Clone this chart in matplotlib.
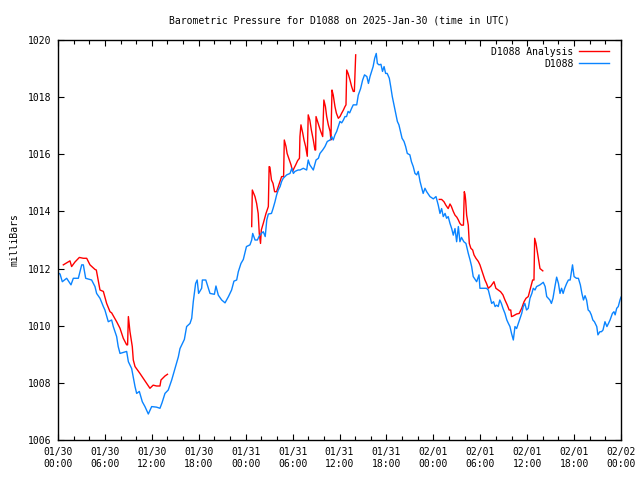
import numpy as np
import matplotlib
matplotlib.use("Agg")
import matplotlib.pyplot as plt
from matplotlib.ticker import MultipleLocator

plt.rcParams['font.family'] = ['DejaVu Sans Mono']

title = "Barometric Pressure for D1088 on 2025-Jan-30 (time in UTC)"
ylabel = "milliBars"
xtick_labels = ["01/30\n00:00", "01/30\n06:00", "01/30\n12:00", "01/30\n18:00",
                "01/31\n00:00", "01/31\n06:00", "01/31\n12:00", "01/31\n18:00",
                "02/01\n00:00", "02/01\n06:00", "02/01\n12:00", "02/01\n18:00",
                "02/02\n00:00"]
series_names = ["D1088 Analysis", "D1088"]

# hours since 2025-01-30 00:00 UTC
obs_hours = [0.0, 0.26, 0.55, 1.11, 1.66, 1.96, 2.6, 3.03, 3.24, 3.54, 4.3, 4.73, 4.94, 5.37, 5.8, 6.0,
             6.43, 6.86, 7.07, 7.5, 7.7, 7.93, 8.78, 9.0, 9.42, 9.85, 10.06, 10.4, 10.78, 11.12, 11.55,
             11.98, 12.6, 13.04, 13.3, 13.68, 14.1, 14.54, 14.96, 15.39, 15.6, 16.16, 16.45, 16.88, 17.1,
             17.3, 17.6, 17.8, 17.98, 18.37, 18.46, 18.9, 19.44, 20.0, 20.2, 20.5, 20.93, 21.36, 21.8,
             22.2, 22.5, 22.85, 23.06, 23.4, 23.7, 24.1, 24.55, 24.77, 24.9, 25.2, 25.5, 25.7, 26.0,
             26.25, 26.5, 26.7, 26.9, 27.3, 27.5, 27.75, 27.96, 28.17, 28.4, 28.6, 28.8, 29.25, 29.67,
             29.9, 30.1, 30.3, 30.7, 30.95, 31.37, 31.8, 32.0, 32.2, 32.65, 33.0, 33.3, 33.5, 33.85,
             34.14, 34.44, 34.8, 35.0, 35.2, 35.42, 35.64, 35.85, 36.06, 36.28, 36.5, 36.7, 36.9, 37.1,
             37.3, 37.55, 37.76, 38.2, 38.4, 38.7, 38.96, 39.2, 39.5, 39.7, 39.9, 40.1, 40.3, 40.5,
             40.7, 40.84, 41.05, 41.3, 41.5, 41.7, 41.9, 42.1, 42.37, 42.55, 42.75, 42.97, 43.2, 43.4,
             43.6, 43.8, 44.0, 44.25, 44.46, 44.67, 45.0, 45.2, 45.43, 45.65, 45.87, 46.07, 46.3, 46.7,
             46.93, 47.15, 47.57, 48.0, 48.34, 48.63, 48.85, 49.06, 49.27, 49.5, 49.7, 49.9, 50.13,
             50.35, 50.55, 50.77, 50.98, 51.2, 51.4, 51.6, 51.9, 52.17, 52.47, 52.7, 52.9, 53.1, 53.54,
             53.84, 53.96, 54.8, 55.03, 55.24, 55.46, 55.7, 55.9, 56.1, 56.3, 56.5, 56.7, 56.9, 57.16,
             57.4, 57.6, 57.8, 58.0, 58.23, 58.44, 58.65, 58.87, 59.1, 59.3, 59.5, 59.7, 59.92, 60.14,
             60.36, 60.6, 60.78, 61.0, 61.2, 61.64, 62.06, 62.3, 62.5, 62.9, 63.1, 63.3, 63.55, 63.77,
             64.0, 64.2, 64.4, 64.6, 64.8, 65.05, 65.27, 65.5, 65.7, 65.8, 66.0, 66.3, 66.55, 66.8,
             67.0, 67.2, 67.4, 67.6, 67.8, 68.0, 68.2, 68.4, 68.6, 68.9, 69.05, 69.3, 69.5, 69.7,
             69.95, 70.2, 70.4, 70.6, 70.9, 71.1, 71.25, 71.45, 71.65, 71.87, 72.0]
obs_values = [1011.85, 1011.81, 1011.54, 1011.66, 1011.43, 1011.66, 1011.66, 1012.13, 1012.13, 1011.66,
              1011.6, 1011.37, 1011.13, 1010.96, 1010.67, 1010.55, 1010.14, 1010.2, 1009.97, 1009.62,
              1009.27, 1009.03, 1009.1, 1008.74, 1008.5, 1007.87, 1007.63, 1007.7, 1007.34, 1007.17,
              1006.91, 1007.17, 1007.15, 1007.11, 1007.3, 1007.63, 1007.75, 1008.1, 1008.5, 1008.91,
              1009.2, 1009.52, 1009.97, 1010.08, 1010.26, 1010.84, 1011.48, 1011.6, 1011.13, 1011.31,
              1011.6, 1011.6, 1011.13, 1011.1, 1011.39, 1011.07, 1010.9, 1010.8, 1011.02, 1011.25,
              1011.56, 1011.6, 1011.89, 1012.18, 1012.32, 1012.77, 1012.83, 1013.0, 1013.23, 1013.0,
              1013.0, 1013.12, 1013.23, 1013.29, 1013.12, 1013.7, 1013.91, 1013.93, 1014.1, 1014.34,
              1014.58, 1014.75, 1014.87, 1015.05, 1015.16, 1015.28, 1015.33, 1015.51, 1015.33, 1015.4,
              1015.45, 1015.45, 1015.51, 1015.45, 1015.8, 1015.63, 1015.45, 1015.8, 1015.86, 1016.03,
              1016.15, 1016.27, 1016.45, 1016.5, 1016.62, 1016.5, 1016.68, 1016.8, 1016.97, 1017.15,
              1017.1, 1017.2, 1017.32, 1017.32, 1017.5, 1017.45, 1017.61, 1017.73, 1017.73, 1018.07,
              1018.3, 1018.6, 1018.78, 1018.72, 1018.48, 1018.72, 1018.9, 1019.07, 1019.36, 1019.53,
              1019.18, 1019.13, 1019.15, 1018.9, 1019.07, 1018.83, 1018.83, 1018.66, 1018.37, 1018.02,
              1017.73, 1017.43, 1017.15, 1017.03, 1016.8, 1016.56, 1016.45, 1016.27, 1016.03, 1015.98,
              1015.74, 1015.57, 1015.33, 1015.28, 1015.4, 1015.05, 1014.63, 1014.81, 1014.69, 1014.52,
              1014.44, 1014.52, 1014.22, 1013.93, 1014.1, 1013.82, 1013.93, 1013.76, 1013.82, 1013.58,
              1013.4, 1013.17, 1013.4, 1012.94, 1013.47, 1012.94, 1013.09, 1012.94, 1012.88, 1012.53,
              1012.3, 1012.07, 1011.72, 1011.54, 1011.78, 1011.31, 1011.31, 1011.25, 1011.02, 1010.78,
              1010.84, 1010.67, 1010.72, 1010.67, 1010.9, 1010.78, 1010.61, 1010.43, 1010.2, 1010.08,
              1009.97, 1009.73, 1009.5, 1009.97, 1009.9, 1010.08, 1010.26, 1010.43, 1010.67, 1010.78,
              1010.55, 1010.61, 1010.96, 1011.13, 1011.31, 1011.25, 1011.37, 1011.43, 1011.52, 1011.37,
              1011.02, 1010.9, 1010.78, 1010.96, 1011.37, 1011.7, 1011.48, 1011.13, 1011.31, 1011.13,
              1011.31, 1011.48, 1011.6, 1011.6, 1011.95, 1012.13, 1011.72, 1011.66, 1011.66, 1011.43,
              1011.13, 1010.9, 1011.05, 1010.9, 1010.55, 1010.5, 1010.38, 1010.2, 1010.14, 1009.97,
              1009.68, 1009.79, 1009.79, 1009.85, 1010.14, 1009.97, 1010.08, 1010.2, 1010.43, 1010.49,
              1010.38, 1010.61, 1010.67, 1010.9, 1011.0]

# analysis runs (three separate segments)
ana1_hours = [0.68, 1.11, 1.53, 1.74, 2.17, 2.73, 3.24, 3.67, 4.09, 4.73, 4.9, 5.37, 5.8, 6.22, 6.65,
              6.86, 7.5, 7.93, 8.35, 8.78, 8.9, 9.0, 9.2, 9.5, 9.63, 9.85, 10.48, 10.9, 11.33, 11.76,
              12.17, 12.6, 13.04, 13.17, 13.68, 14.0]
ana1_values = [1012.13, 1012.2, 1012.27, 1012.07, 1012.23, 1012.39, 1012.36, 1012.36, 1012.13, 1011.97,
               1011.95, 1011.25, 1011.2, 1010.78, 1010.49, 1010.45, 1010.14, 1009.91, 1009.56, 1009.33,
               1009.33, 1010.32, 1009.8, 1009.27, 1008.8, 1008.57, 1008.33, 1008.16, 1007.98, 1007.81,
               1007.92, 1007.89, 1007.89, 1008.1, 1008.24, 1008.3]
ana2_hours = [24.77, 24.8, 24.85, 25.19, 25.4, 25.6, 25.74, 25.9, 26.0, 26.25, 26.6, 26.9, 27.0, 27.1,
              27.3, 27.5, 27.7, 27.95, 28.17, 28.4, 28.6, 28.85, 28.94, 29.16, 29.3, 29.58, 29.8, 30.0,
              30.18, 30.4, 30.65, 30.88, 30.94, 31.07, 31.3, 31.46, 31.67, 31.88, 32.0, 32.2, 32.4,
              32.65, 32.86, 32.95, 33.0, 33.2, 33.4, 33.6, 33.85, 34.0, 34.2, 34.36, 34.57, 34.8, 34.9,
              35.04, 35.2, 35.42, 35.6, 35.85, 36.06, 36.28, 36.5, 36.7, 36.83, 36.92, 37.1, 37.34,
              37.55, 37.76, 37.9, 37.98, 38.07]
ana2_values = [1013.47, 1014.05, 1014.75, 1014.52, 1014.28, 1013.93, 1013.23, 1012.88, 1013.35, 1013.58,
               1013.93, 1014.17, 1015.57, 1015.55, 1015.1, 1014.98, 1014.69, 1014.69, 1014.87, 1015.05,
               1015.22, 1015.22, 1016.5, 1016.27, 1016.03, 1015.8, 1015.63, 1015.4, 1015.51, 1015.63,
               1015.78, 1015.86, 1016.62, 1017.03, 1016.74, 1016.5, 1016.27, 1015.93, 1017.38, 1017.2,
               1016.85, 1016.5, 1016.15, 1016.15, 1017.32, 1017.14, 1016.97, 1016.8, 1016.62, 1017.9,
               1017.67, 1017.32, 1017.03, 1016.8, 1016.5, 1018.25, 1018.07, 1017.67, 1017.44, 1017.26,
               1017.32, 1017.44, 1017.55, 1017.67, 1017.73, 1018.95, 1018.83, 1018.6, 1018.37, 1018.2,
               1018.2, 1018.83, 1019.48]
ana3_hours = [48.76, 49.06, 49.36, 49.6, 49.9, 50.13, 50.3, 50.55, 50.77, 51.0, 51.2, 51.4, 51.6, 51.85,
              51.96, 52.05, 52.13, 52.26, 52.47, 52.6, 52.8, 53.03, 53.2, 53.45, 53.75, 53.96, 54.18,
              54.4, 54.6, 54.8, 55.03, 55.37, 55.75, 56.0, 56.3, 56.6, 56.9, 57.16, 57.46, 57.7, 57.9,
              58.0, 58.2, 58.65, 58.98, 59.3, 59.6, 59.85, 60.14, 60.36, 60.57, 60.7, 60.87, 60.96,
              61.13, 61.3, 61.47, 61.64, 62.0]
ana3_values = [1014.42, 1014.42, 1014.34, 1014.22, 1014.1, 1014.26, 1014.18, 1014.0, 1013.87, 1013.8,
               1013.7, 1013.58, 1013.52, 1013.52, 1014.69, 1014.6, 1014.4, 1013.87, 1013.52, 1012.88,
               1012.71, 1012.65, 1012.48, 1012.36, 1012.25, 1012.13, 1011.95, 1011.78, 1011.6, 1011.48,
               1011.31, 1011.39, 1011.54, 1011.31, 1011.25, 1011.19, 1011.08, 1010.9, 1010.72, 1010.55,
               1010.55, 1010.32, 1010.34, 1010.41, 1010.43, 1010.61, 1010.84, 1010.96, 1011.02, 1011.25,
               1011.48, 1011.6, 1011.6, 1013.06, 1012.88, 1012.59, 1012.3, 1012.0, 1011.92]

RED = '#ff0000'
BLUE = '#0a84ff'

fig = plt.figure(figsize=(6.4, 4.8), dpi=100)
ax = fig.add_axes([58/640, 1-440/480, (621-58)/640, 400/480])

ana_x = ana1_hours + [np.nan] + ana2_hours + [np.nan] + ana3_hours
ana_y = ana1_values + [np.nan] + ana2_values + [np.nan] + ana3_values
ax.plot(ana_x, ana_y, color=RED, lw=1.0, label=series_names[0])
ax.plot(obs_hours, obs_values, color=BLUE, lw=1.0, label=series_names[1])

ax.set_xlim(0, 72)
ax.set_ylim(1006, 1020)
ax.set_xticks(np.arange(0, 73, 6))
ax.set_xticklabels(xtick_labels)
ax.xaxis.set_minor_locator(MultipleLocator(2))
ax.set_yticks(np.arange(1006, 1021, 2))
ax.tick_params(axis='both', which='both', direction='in', top=True, right=True,
               labelsize=7, colors='black', width=0.8)
ax.tick_params(axis='both', which='major', length=4, pad=5)
ax.tick_params(axis='x', which='minor', length=3)
for s in ax.spines.values():
    s.set_linewidth(1.0)

ax.set_title(title, fontsize=7, pad=12)
ax.set_ylabel(ylabel, fontsize=7, labelpad=6)

leg = ax.legend(loc='upper right', frameon=False, markerfirst=False, fontsize=7,
                handlelength=3.0, handletextpad=0.6, labelspacing=0.2,
                borderaxespad=0.3, bbox_to_anchor=(0.99, 1.0))

fig.savefig('out.png', dpi=100)
